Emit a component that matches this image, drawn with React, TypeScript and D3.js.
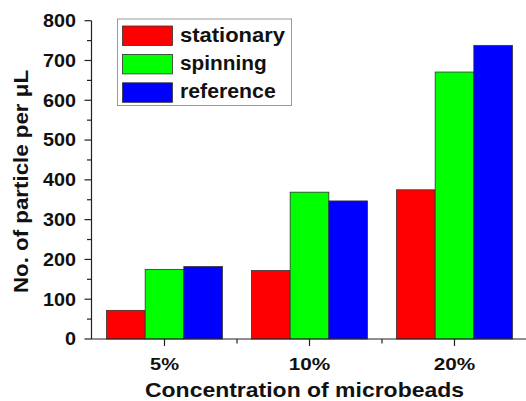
import React from "react";
import * as d3 from "d3";

const categories = ["5%", "10%", "20%"];
const seriesNames = ["stationary", "spinning", "reference"];
const stationary = [72, 172, 375];
const spinning = [175, 369, 671];
const reference = [182, 347, 738];
const seriesColors = ["#ff0000", "#00ff00", "#0000ff"];
const yTicks = [0, 100, 200, 300, 400, 500, 600, 700, 800];
const yTitle = "No. of particle per \u03bcL";
const xTitle = "Concentration of microbeads";

const W = 526;
const H = 401;

export default function App() {
  const series = [stationary, spinning, reference];
  const x = d3
    .scaleBand<string>()
    .domain(categories)
    .range([92, 527])
    .paddingInner(0.2)
    .paddingOuter(0.1);
  const xs = d3
    .scaleBand<string>()
    .domain(seriesNames)
    .range([0, x.bandwidth()]);
  const y = d3.scaleLinear().domain([0, 800]).range([339, 20.7]);
  const minorY = d3.range(50, 800, 100);
  const step = x.step();
  const centers = categories.map((c) => (x(c) as number) + x.bandwidth() / 2);
  const minorX = [centers[0] + step / 2, centers[1] + step / 2];
  const axisX = 91.5;
  const font = "'Liberation Sans', Arial, sans-serif";
  const digitW = 11;
  const xLabelW: Record<string, number> = { "5%": 29, "10%": 41.5, "20%": 41.5 };
  const legendW = [105, 86.7, 95.7];

  return (
    <svg
      width={W}
      height={H}
      style={{ position: "absolute", left: 0, top: 0, background: "#fff" }}
      fontFamily={font}
      fontWeight="bold"
    >
      <rect width={W} height={H} fill="#fff" />
      {categories.map((c, ci) =>
        series.map((s, si) => (
          <rect
            key={c + si}
            x={(x(c) as number) + (xs(seriesNames[si]) as number)}
            y={y(s[ci])}
            width={xs.bandwidth()}
            height={y(0) - y(s[ci])}
            fill={seriesColors[si]}
            stroke="#333"
            strokeWidth={0.8}
          />
        ))
      )}
      <line x1={axisX} x2={axisX} y1={y(800)} y2={y(0)} stroke="#222" strokeWidth={1.2} />
      {yTicks.map((t) => (
        <g key={t}>
          <line x1={axisX - 7} x2={axisX} y1={y(t)} y2={y(t)} stroke="#222" strokeWidth={1.2} />
          <text
            x={76}
            y={y(t) + 6.3}
            fontSize={17.5}
            textAnchor="end"
            textLength={String(t).length * digitW}
            lengthAdjust="spacingAndGlyphs"
            fill="#111"
          >
            {t}
          </text>
        </g>
      ))}
      {minorY.map((t) => (
        <line key={t} x1={axisX - 4.5} x2={axisX} y1={y(t)} y2={y(t)} stroke="#222" strokeWidth={1.2} />
      ))}
      <line x1={axisX} x2={W} y1={y(0)} y2={y(0)} stroke="#222" strokeWidth={1.2} />
      {categories.map((c, i) => (
        <g key={c}>
          <line x1={centers[i]} x2={centers[i]} y1={y(0)} y2={y(0) + 7} stroke="#222" strokeWidth={1.2} />
          <text
            x={centers[i]}
            y={370}
            fontSize={17}
            textAnchor="middle"
            textLength={xLabelW[c]}
            lengthAdjust="spacingAndGlyphs"
            fill="#111"
          >
            {c}
          </text>
        </g>
      ))}
      {minorX.map((m) => (
        <line key={m} x1={m} x2={m} y1={y(0)} y2={y(0) + 4.5} stroke="#222" strokeWidth={1.2} />
      ))}
      <text
        x={304.5}
        y={397}
        fontSize={21}
        textAnchor="middle"
        textLength={319}
        lengthAdjust="spacingAndGlyphs"
        fill="#111"
      >
        {xTitle}
      </text>
      <text
        transform={`translate(27.5,181.5) rotate(-90)`}
        fontSize={21}
        textAnchor="middle"
        textLength={223}
        lengthAdjust="spacingAndGlyphs"
        fill="#111"
      >
        {yTitle}
      </text>
      <rect x={117.5} y={19} width={174} height={86.5} fill="#fff" stroke="#999" strokeWidth={1} />
      {seriesNames.map((n, i) => (
        <g key={n}>
          <rect
            x={122.5}
            y={26 + i * 28.4}
            width={50}
            height={19.5}
            fill={seriesColors[i]}
            stroke="#333"
            strokeWidth={0.8}
          />
          <text
            x={180}
            y={26 + i * 28.4 + 15.5}
            fontSize={19.5}
            textLength={legendW[i]}
            lengthAdjust="spacingAndGlyphs"
            fill="#111"
          >
            {n}
          </text>
        </g>
      ))}
    </svg>
  );
}
